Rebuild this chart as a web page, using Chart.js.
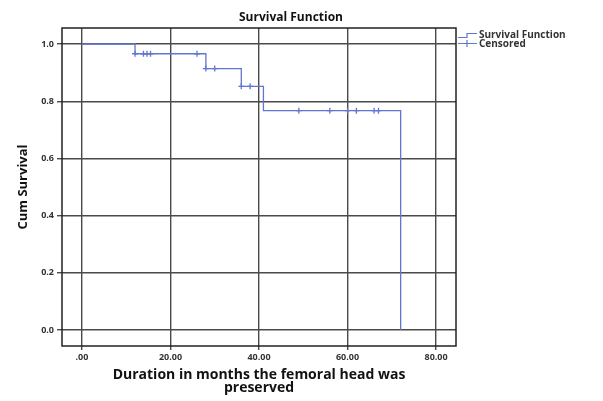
<!DOCTYPE html>
<html>
<head>
<meta charset="utf-8">
<script src="https://cdn.jsdelivr.net/npm/chart.js@4.4.0/dist/chart.umd.min.js"></script>
<style>
  html, body { margin: 0; padding: 0; background: #fff; }
  #wrap { width: 603px; height: 401px; position: relative; }
</style>
</head>
<body>
<div id="wrap"><canvas id="survChart" width="603" height="401"></canvas></div>
<script>
// step points of the Kaplan-Meier curve (months, cum survival)
var stepTimes = [0, 12, 28, 36, 41, 72];
var stepValues = [1.0, 0.966, 0.914, 0.852, 0.767, 0.0];

// censored observations
var censTimes = [12, 13.9, 14.7, 15.5, 26, 28, 30, 36, 38, 49, 56, 60, 62, 66, 67];
var censValues = [0.966, 0.966, 0.966, 0.966, 0.966, 0.914, 0.914, 0.852, 0.852, 0.767, 0.767, 0.767, 0.767, 0.767, 0.767];

var xTicks = [0, 20, 40, 60, 80];
var yTicks = [0, 0.2, 0.4, 0.6, 0.8, 1.0];
var xTickLabels = ['.00', '20.00', '40.00', '60.00', '80.00'];

var lineColor = '#6276d0';

var stepData = stepTimes.map(function(t, i){ return {x: t, y: stepValues[i]}; });
var censData = censTimes.map(function(t, i){ return {x: t, y: censValues[i]}; });

// titles + legend drawn by hand (SPSS style)
var textPlugin = {
    id: 'textPlugin',
    afterDraw: function(chart){
        var ctx = chart.ctx;
        var area = chart.chartArea;
        ctx.save();
        // frame
        ctx.strokeStyle = '#222';
        ctx.lineWidth = 1.5;
        ctx.strokeRect(area.left, area.top, area.right - area.left, area.bottom - area.top);

        ctx.fillStyle = '#111';
        ctx.textAlign = 'center';
        ctx.textBaseline = 'middle';
        ctx.font = 'bold 12px "Open Sans"';
        ctx.fillText('Survival Function', 291, 18);

        var cx = (area.left + area.right) / 2;
        ctx.font = 'bold 14px "Open Sans"';
        ctx.fillText('Duration in months the femoral head was', cx, 375);
        ctx.fillText('preserved', cx, 388);

        ctx.save();
        ctx.translate(23, (area.top + area.bottom) / 2);
        ctx.rotate(-Math.PI / 2);
        ctx.font = 'bold 13px "Liberation Sans Narrow", "Open Sans"';
        ctx.fillText('Cum Survival', 0, 0);
        ctx.restore();

        // legend
        var lx = area.right + 2;
        ctx.strokeStyle = lineColor;
        ctx.lineWidth = 1.2;
        ctx.beginPath();
        ctx.moveTo(lx, 37.5); ctx.lineTo(lx + 9, 37.5); ctx.lineTo(lx + 9, 33.5); ctx.lineTo(lx + 19, 33.5);
        ctx.stroke();
        ctx.beginPath();
        ctx.moveTo(lx, 43.5); ctx.lineTo(lx + 19, 43.5);
        ctx.moveTo(lx + 9, 40); ctx.lineTo(lx + 9, 47);
        ctx.stroke();
        ctx.fillStyle = '#333';
        ctx.textAlign = 'left';
        ctx.font = 'bold 10px "Open Sans"';
        ctx.fillText('Survival Function', lx + 21, 35);
        ctx.fillText('Censored', lx + 21, 44);
        ctx.restore();
    }
};

var ctx = document.getElementById('survChart').getContext('2d');
var survChart = new Chart(ctx, {
    type: 'scatter',
    data: {
        datasets: [{
            label: 'Survival Function',
            data: stepData,
            showLine: true,
            stepped: 'before',
            borderColor: lineColor,
            borderWidth: 1.3,
            pointRadius: 0,
            fill: false
        }, {
            label: 'Censored',
            data: censData,
            showLine: false,
            pointStyle: 'cross',
            pointRadius: 3,
            borderColor: lineColor,
            borderWidth: 1.3
        }]
    },
    options: {
        responsive: false,
        animation: false,
        layout: { padding: { top: 28, right: 147, left: 0, bottom: 0 } },
        plugins: {
            legend: { display: false },
            title: { display: false },
            tooltip: { enabled: false }
        },
        scales: {
            x: {
                type: 'linear',
                min: -4.5,
                max: 84.5,
                afterBuildTicks: function(scale){
                    scale.ticks = xTicks.map(function(v){ return {value: v}; });
                },
                afterFit: function(scale){ scale.height = 55; },
                grid: { color: '#4a4a4a', lineWidth: 1.4, tickLength: 4, drawTicks: true },
                border: { display: false },
                ticks: {
                    padding: 2,
                    color: '#333',
                    font: { family: 'Open Sans', size: 9, weight: 'bold' },
                    callback: function(v){ return xTickLabels[xTicks.indexOf(v)]; }
                }
            },
            y: {
                type: 'linear',
                min: -0.056,
                max: 1.056,
                afterBuildTicks: function(scale){
                    scale.ticks = yTicks.map(function(v){ return {value: v}; });
                },
                afterFit: function(scale){ scale.width = 62; },
                grid: { color: '#4a4a4a', lineWidth: 1.4, tickLength: 5, drawTicks: true },
                border: { display: false },
                ticks: {
                    padding: 3,
                    color: '#333',
                    font: { family: 'Open Sans', size: 9, weight: 'bold' },
                    callback: function(v){ return v.toFixed(1); }
                }
            }
        }
    },
    plugins: [textPlugin]
});
</script>
</body>
</html>
